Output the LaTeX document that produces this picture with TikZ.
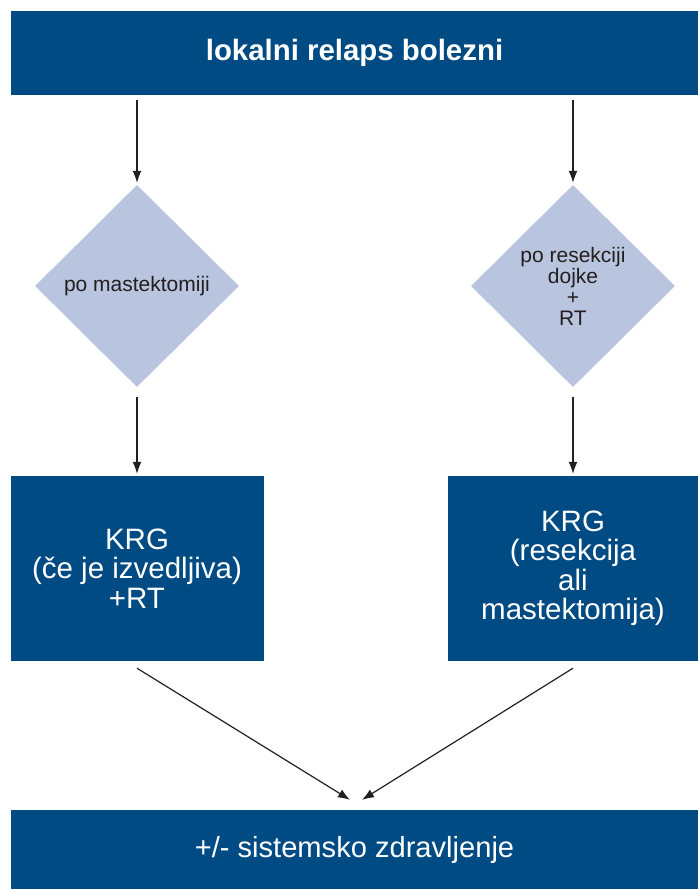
\documentclass[tikz,border=0pt]{standalone}
\usepackage{fontspec}
\setmainfont{Liberation Sans}
\usetikzlibrary{shapes.geometric,arrows.meta}
\definecolor{boxblue}{HTML}{004B84}
\definecolor{diablue}{HTML}{B9C5DE}
\definecolor{ink}{HTML}{231F20}
\begin{document}
\begin{tikzpicture}[x=1pt,y=-1pt,node distance=282.5pt,
block/.style={
rectangle,
fill=boxblue,
text=white,
align=center,
inner sep=0pt,
font=\fontsize{29.5}{29.5}\selectfont
},
dia/.style={
diamond,
fill=diablue,
text=ink,
align=center,
inner sep=0pt,
minimum width=204pt,
minimum height=202pt,
font=\fontsize{21}{21}\selectfont
},
arr/.style={draw=ink, line width=1.2pt, -{Latex[length=12pt,width=9pt]}},
]
\useasboundingbox (0,0) rectangle (698,889);

\node (relaps) [block, minimum width=687pt, minimum height=84pt, font=\bfseries\fontsize{29.4}{29.4}\selectfont] at (354.5,53) {lokalni relaps bolezni};
\node (mast) [dia] at (137,286) {po mastektomiji};
\node (resek) [dia] at (573,286) {po resekciji\\dojke\\+\\RT};
\node (krgl) [block, below of=mast, minimum width=253pt, minimum height=185pt] {KRG\\(če je izvedljiva)\\+RT};
\node (krgr) [block, below of=resek, minimum width=250pt, minimum height=185pt] {KRG\\(resekcija\\ali\\mastektomija)};
\node (sist) [block, minimum width=687pt, minimum height=79pt, font=\fontsize{29.1}{29.1}\selectfont] at (354.5,849.5) {+/- sistemsko zdravljenje};

\draw[arr] ([yshift=-5pt]relaps.south -| mast) -- ([yshift=2pt]mast.north);
\draw[arr] ([yshift=-5pt]relaps.south -| resek) -- ([yshift=2pt]resek.north);
\draw[arr] ([yshift=-10pt]mast.south) -- ([yshift=2pt]krgl.north);
\draw[arr] ([yshift=-10pt]resek.south) -- ([yshift=2pt]krgr.north);
\draw[arr] ([yshift=-7pt]krgl.south) -- ([xshift=-4.5pt,yshift=10pt]sist.north);
\draw[arr] ([yshift=-7pt]krgr.south) -- ([xshift=7.5pt,yshift=10pt]sist.north);
\end{tikzpicture}
\end{document}
